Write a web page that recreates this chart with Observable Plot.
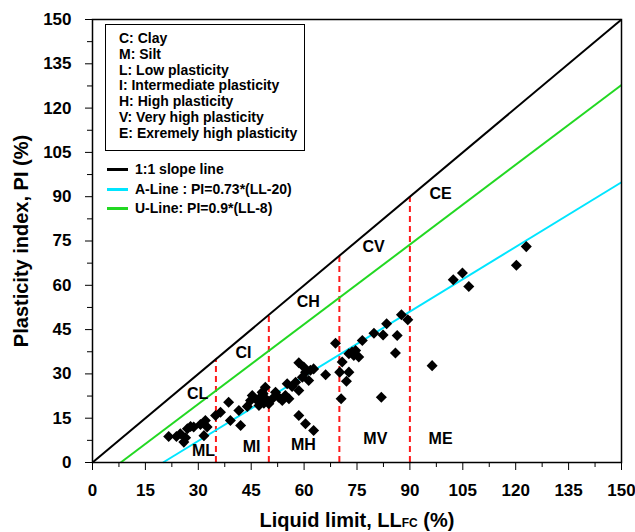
<!DOCTYPE html>
<html><head><meta charset="utf-8">
<script src="https://cdn.jsdelivr.net/npm/d3@7"></script>
<script src="https://cdn.jsdelivr.net/npm/@observablehq/plot@0.6"></script>
<style>
body{margin:0;background:#fff;}
#wrap{position:relative;width:635px;height:532px;font-family:"Liberation Sans",Arial,sans-serif;font-weight:bold;color:#000;}
#box{position:absolute;left:105px;top:24px;width:198px;height:125px;border:1px solid #000;background:#fff;box-sizing:content-box;padding:0;}
#box div{position:absolute;left:13px;font-size:14px;line-height:16px;white-space:nowrap;}
.lrow{position:absolute;left:107px;font-size:14px;line-height:16px;white-space:nowrap;}
.lrow span.sw{position:absolute;left:0;top:7px;width:21px;height:3px;}
.lrow span.tx{position:absolute;left:28px;top:0;}
</style></head><body><div id="wrap"></div>
<script>
// soil samples (liquid limit LL %, plasticity index PI %)
const LL = [21.6,23.8,24.9,26.9,27.8,26.4,25.9,28.7,30.6,32.0,32.5,31.6,34.9,36.3,38.6,39.1,41.5,42.0,43.9,44.8,45.3,46.7,47.2,48.6,49.0,48.1,
  58.5,59.9,60.4,61.8,62.7,59.5,61.3,55.2,56.6,57.6,58.5,54.7,55.7,53.8,51.9,52.8,47.6,48.4,49.1,51.0,50.0,58.5,60.4,62.7,
  68.9,72.7,73.6,74.6,74.1,75.5,76.5,79.8,82.4,83.4,86.4,85.9,87.6,89.4,70.8,70.1,72.7,72.0,66.1,70.5,81.9,96.3,
  102.3,104.9,106.7,120.2,123.0];
const PI = [8.8,8.8,9.7,11.4,12.2,8.4,6.9,12.0,12.9,14.2,12.0,9.1,15.9,17.0,20.4,14.2,17.6,12.5,19.0,21.0,22.7,21.0,19.3,20.1,25.5,23.8,
  33.8,32.3,30.6,31.2,31.7,28.9,27.8,26.7,25.7,27.2,24.4,22.7,21.6,21.0,23.8,22.1,22.1,23.3,21.6,21.6,19.9,15.9,13.1,10.8,
  40.4,36.8,37.4,37.9,36.2,35.7,41.3,43.8,43.2,47.0,43.0,37.1,50.0,48.3,34.0,30.6,30.6,27.5,29.7,21.6,22.1,32.8,
  61.9,64.2,59.6,66.8,73.1];

const majorTicks = [0,15,30,45,60,75,90,105,120,135,150];
const minorTicks = [7.5,22.5,37.5,52.5,67.5,82.5,97.5,112.5,127.5,142.5];

// zone boundaries (vertical dashed lines up to the 1:1 line)
const boundaryLL = [35,50,70,90];
const boundaryTop = [35,50,70,90];

// zone labels
const zoneNames = ["CL","CI","CH","CV","CE","ML","MI","MH","MV","ME"];
const zoneLL = [29.8,42.8,61.2,79.7,98.7,31.5,45.1,59.8,80.2,98.7];
const zonePI = [23.4,37.2,54.5,73.1,91.1,4.1,5.4,6.1,8.1,8.1];

// reference lines
const lineNames = ["1:1 slope line","A-Line : PI=0.73*(LL-20)","U-Line: PI=0.9*(LL-8)"];
const lineColors = ["#000000","#00e5ff","#22d822"];
const lineX1 = [0,20,8];
const lineY1 = [0,0,0];
const lineX2 = [150,150,150];
const lineY2 = [150,94.9,127.8];

const legendItems = ["C: Clay","M: Silt","L: Low plasticity","I: Intermediate plasticity","H: High plasticity","V: Very high plasticity","E: Exremely high plasticity"];

const pts = LL.map((x,i)=>({ll:x, pi:PI[i]}));
const idx = lineNames.map((d,i)=>i);

const chart = Plot.plot({
  width:635, height:532,
  marginLeft:92, marginRight:14, marginTop:19, marginBottom:70,
  x:{domain:[0,150], label:null},
  y:{domain:[0,150], label:null},
  style:{fontFamily:"'Liberation Sans', Arial, sans-serif", fontWeight:"bold", background:"#fff", color:"#000", overflow:"visible"},
  marks:[
    Plot.ruleX(boundaryLL, {x:d=>d, y1:0, y2:(d,i)=>boundaryTop[i], stroke:"#ff1a1a", strokeWidth:2, strokeDasharray:"6,4"}),
    ...idx.map(i => Plot.link([i], {x1:()=>lineX1[i], y1:()=>lineY1[i], x2:()=>lineX2[i], y2:()=>lineY2[i], stroke:lineColors[i], strokeWidth:2})),
    Plot.dot(pts, {x:"ll", y:"pi", symbol:"square", r:4.4, fill:"#000", stroke:"none", rotate:45}),
    Plot.text(zoneNames, {x:(d,i)=>zoneLL[i], y:(d,i)=>zonePI[i], text:d=>d, fontSize:16, fontWeight:"bold", fill:"#000"}),
    Plot.axisX(majorTicks, {tickSize:8, tickPadding:13, fontSize:17, label:null, tickFormat:d=>d}),
    Plot.axisX(minorTicks, {tickSize:5, text:null, label:null}),
    Plot.axisY(majorTicks, {tickSize:7, tickPadding:14, fontSize:17, label:null, tickFormat:d=>d}),
    Plot.axisY(minorTicks, {tickSize:5, text:null, label:null}),
    Plot.frame({stroke:"#000", strokeWidth:1.5})
  ]
});

const wrap = document.getElementById("wrap");
wrap.appendChild(chart);

// axis titles
const svg = d3.select(chart);
svg.append("text")
  .attr("transform","translate(23,241) rotate(-90)")
  .attr("text-anchor","middle").attr("dominant-baseline","middle")
  .attr("font-size",20).attr("font-weight","bold").attr("fill","#000")
  .text("Plasticity index, PI (%)");
const xt = svg.append("text")
  .attr("x",357).attr("y",527)
  .attr("text-anchor","middle")
  .attr("font-size",20).attr("font-weight","bold").attr("fill","#000");
xt.append("tspan").text("Liquid limit, LL");
xt.append("tspan").attr("font-size",12).text("FC");
xt.append("tspan").text(" (%)");

// legend box
const box = document.createElement("div");
box.id = "box";
legendItems.forEach((t,i)=>{
  const d = document.createElement("div");
  d.style.top = (5 + i*15.8) + "px";
  d.textContent = t;
  box.appendChild(d);
});
wrap.appendChild(box);

lineNames.forEach((t,i)=>{
  const r = document.createElement("div");
  r.className = "lrow";
  r.style.top = (161 + i*19.5) + "px";
  const sw = document.createElement("span");
  sw.className = "sw"; sw.style.background = lineColors[i];
  const tx = document.createElement("span");
  tx.className = "tx"; tx.textContent = t;
  r.appendChild(sw); r.appendChild(tx);
  wrap.appendChild(r);
});
</script></body></html>
